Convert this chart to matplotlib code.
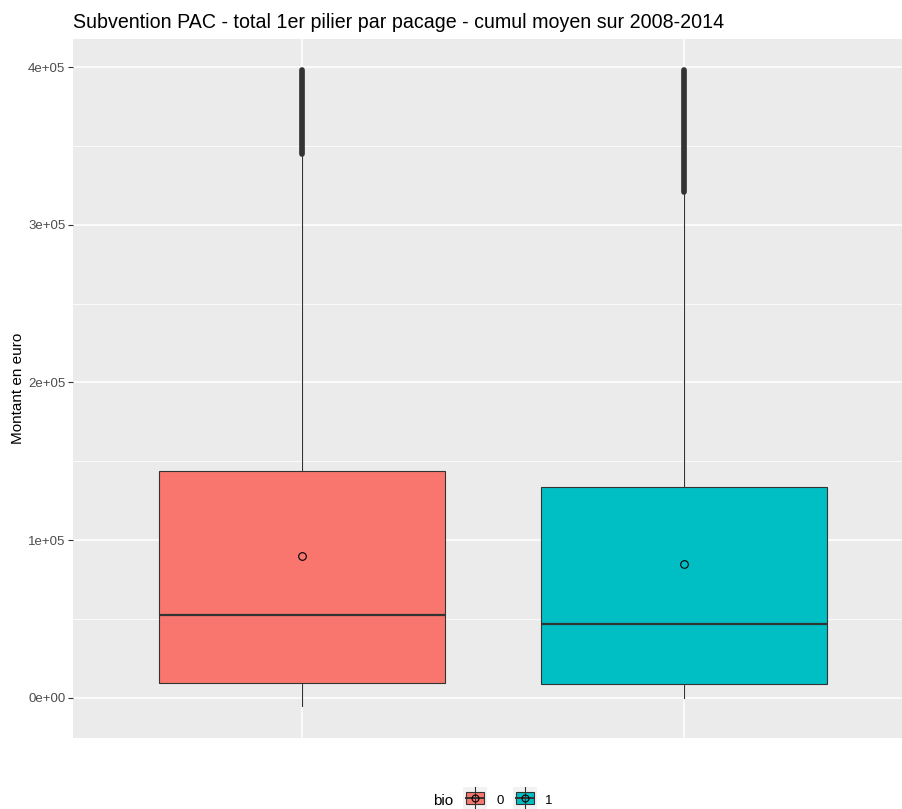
import matplotlib.pyplot as plt
from matplotlib.patches import Rectangle
from matplotlib.lines import Line2D
from matplotlib.ticker import MultipleLocator, FuncFormatter

plt.rcParams['font.family'] = ['Liberation Sans', 'DejaVu Sans']

# Summary statistics per group (bio = 0 / 1)
groups = ["0", "1"]
fills = ["#F8766D", "#00BFC4"]
q1 = [9500, 8900]
median = [52600, 46900]
q3 = [143900, 133800]
whisker_low = [-5100, 300]
whisker_high = [344000, 320000]
means = [90000, 84900]
outlier_low = [345000, 321000]
outlier_high = [398000, 398000]

W, H = 902, 809
fig = plt.figure(figsize=(W / 100, H / 100), dpi=100)
fig.patch.set_facecolor("white")

# panel in pixel coordinates
left, right, top, bottom = 73, 913, 39, 738
ax = fig.add_axes([left / W, 1 - bottom / H, (right - left) / W, (bottom - top) / H])
ax.set_facecolor("#EBEBEB")
for s in ax.spines.values():
    s.set_visible(False)

positions = [1, 2]
stats = []
for i in range(len(groups)):
    stats.append(dict(med=median[i], q1=q1[i], q3=q3[i], whislo=whisker_low[i],
                      whishi=whisker_high[i], mean=means[i], fliers=[], label=groups[i]))

bp = ax.bxp(stats, positions=positions, widths=0.75, patch_artist=True,
            showmeans=True, showcaps=False, showfliers=False,
            boxprops=dict(edgecolor="#333333", linewidth=0.8),
            whiskerprops=dict(color="#333333", linewidth=0.8),
            medianprops=dict(color="#333333", linewidth=1.6),
            meanprops=dict(marker="o", markerfacecolor="none", markeredgecolor="black",
                           markersize=5.5, markeredgewidth=0.8))
for patch, c in zip(bp["boxes"], fills):
    patch.set_facecolor(c)
    patch.set_zorder(3)
for k in ("whiskers", "medians", "means"):
    for art in bp[k]:
        art.set_zorder(4 if k != "whiskers" else 2)

# dense outliers overlap into a solid bar
ax.vlines(positions, outlier_low, outlier_high, colors="#333333", linewidth=4.1,
          capstyle="round", zorder=4)

ax.set_xlim(0.4, 2.6)
ax.set_ylim(-25360, 417750)
ax.yaxis.set_major_locator(MultipleLocator(100000))
ax.yaxis.set_minor_locator(MultipleLocator(50000))
ax.set_xticks(positions)
ax.set_xticklabels([])
ax.tick_params(axis="x", length=0)
ax.tick_params(axis="y", which="major", length=3.5, width=0.8, color="#333333",
               labelsize=9.5, labelcolor="#4D4D4D", pad=2)
ax.tick_params(axis="y", which="minor", length=0)
ax.yaxis.set_major_formatter(FuncFormatter(lambda v, p: f"{int(round(v / 1e5))}e+0{5 if v else 0}"))

ax.grid(True, which="major", color="white", linewidth=1.1, zorder=0)
ax.grid(True, which="minor", axis="y", color="white", linewidth=0.55, zorder=0)
ax.set_axisbelow(True)

ax.set_ylabel("Montant en euro", fontsize=11, color="black", labelpad=2)
fig.text(73 / W, 1 - 28 / H, "Subvention PAC - total 1er pilier par pacage - cumul moyen sur 2008-2014",
         fontsize=14.1, ha="left", va="baseline")

# legend drawn as small boxplot keys
fig.text(433 / W, 1 - 801 / H, "bio", fontsize=11, ha="left", va="center")
key_x = [463, 513]
label_x = [496, 545]
for i in range(len(groups)):
    kx = key_x[i]
    kax = fig.add_axes([kx / W, 1 - 809 / H, 24 / W, 22 / H])
    kax.set_xlim(0, 24)
    kax.set_ylim(22, 0)
    kax.axis("off")
    kax.add_patch(Rectangle((0, 0), 24, 24, facecolor="#F2F2F2", edgecolor="none"))
    kax.add_line(Line2D([12, 12], [0, 24], color="#333333", linewidth=0.8))
    kax.add_patch(Rectangle((3, 5), 18, 12, facecolor=fills[i], edgecolor="#333333", linewidth=0.8))
    kax.add_line(Line2D([3, 21], [11, 11], color="#333333", linewidth=1.4))
    kax.plot([12], [11], marker="o", markerfacecolor="none", markeredgecolor="black",
             markersize=5, markeredgewidth=0.8)
    fig.text(label_x[i] / W, 1 - 801 / H, groups[i], fontsize=9.5, ha="left", va="center")

fig.savefig("out.png", dpi=100)
